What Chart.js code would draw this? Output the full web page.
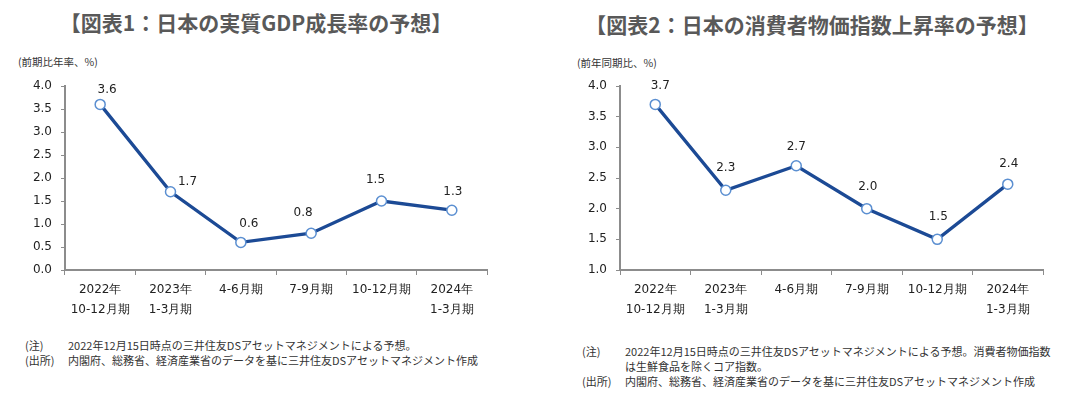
<!DOCTYPE html>
<html>
<head>
<meta charset="utf-8">
<script src="https://cdn.jsdelivr.net/npm/chart.js@4.4.0/dist/chart.umd.min.js"></script>
<style>
  body { margin: 0; background: #fff; width: 1087px; height: 397px; position: relative; overflow: hidden;
         font-family: "Noto Sans CJK JP", sans-serif; color: #333; }
  .title { position: absolute; top: 7px; font-size: 21px; font-weight: bold; color: #595959; white-space: nowrap;
           transform: translateX(-50%); }
  .unit { position: absolute; font-size: 10.5px; color: #333; white-space: nowrap; }
  .note { position: absolute; font-size: 11px; line-height: 15px; color: #333; white-space: nowrap; }
  .note span { display: inline-block; width: 43px; }
  canvas { position: absolute; top: 0; }
</style>
</head>
<body>
<div class="title" style="left:256px">【図表1：日本の実質GDP成長率の予想】</div>
<div class="title" style="left:812px;top:9px">【図表2：日本の消費者物価指数上昇率の予想】</div>
<div class="unit" style="left:18px;top:54px">(前期比年率、%)</div>
<div class="unit" style="left:577px;top:55px">(前年同期比、%)</div>

<div style="position:absolute;left:0;top:0;width:540px;height:330px"><canvas id="c1"></canvas></div>
<div style="position:absolute;left:545px;top:0;width:542px;height:330px"><canvas id="c2"></canvas></div>

<div class="note" style="left:25px;top:338px">
  <div><span>(注)</span>2022年12月15日時点の三井住友DSアセットマネジメントによる予想。</div>
  <div><span>(出所)</span>内閣府、総務省、経済産業省のデータを基に三井住友DSアセットマネジメント作成</div>
</div>
<div class="note" style="left:582px;top:344px">
  <div><span>(注)</span>2022年12月15日時点の三井住友DSアセットマネジメントによる予想。消費者物価指数</div>
  <div><span></span>は生鮮食品を除くコア指数。</div>
  <div><span>(出所)</span>内閣府、総務省、経済産業省のデータを基に三井住友DSアセットマネジメント作成</div>
</div>

<script>
// 期間ラベル
const quarters = [
  ["2022年", "10-12月期"],
  ["2023年", "1-3月期"],
  "4-6月期",
  "7-9月期",
  "10-12月期",
  ["2024年", "1-3月期"]
];
// 実質GDP成長率（前期比年率、%）
const gdpGrowth = [3.6, 1.7, 0.6, 0.8, 1.5, 1.3];
// コアCPI上昇率（前年同期比、%）
const cpiGrowth = [3.7, 2.3, 2.7, 2.0, 1.5, 2.4];
// 目盛り
const gdpTicks = { min: 0.0, max: 4.0, step: 0.5 };
const cpiTicks = { min: 1.0, max: 4.0, step: 0.5 };

const axisColor = "#8c8c8c";
const tickFont = { family: "DejaVu Sans", size: 12, lineHeight: "20px" };

// 値ラベルを点の上に描くプラグイン
const valueLabels = {
  id: "valueLabels",
  afterDatasetsDraw(chart, args, opts) {
    const ctx = chart.ctx;
    const meta = chart.getDatasetMeta(0);
    const values = chart.data.datasets[0].data;
    ctx.save();
    ctx.font = "12px 'DejaVu Sans'";
    ctx.fillStyle = "#222";
    ctx.textAlign = "center";
    ctx.textBaseline = "middle";
    meta.data.forEach((pt, i) => {
      const off = (opts.offsets && opts.offsets[i]) || [0, -20];
      ctx.fillText(values[i].toFixed(1), pt.x + off[0], pt.y + off[1]);
    });
    ctx.restore();
  }
};

function makeChart(id, values, yt, pad, offsets) {
  return new Chart(document.getElementById(id), {
    type: "line",
    data: {
      labels: quarters,
      datasets: [{
        data: values,
        borderColor: "#1c4a95",
        borderWidth: 3.3,
        pointRadius: 5,
        pointBorderWidth: 1.5,
        pointBorderColor: "#5b8fd1",
        pointBackgroundColor: "#fff",
        tension: 0
      }]
    },
    options: {
      responsive: true,
      maintainAspectRatio: false,
      animation: false,
      layout: { padding: pad },
      plugins: {
        legend: { display: false },
        tooltip: { enabled: false },
        valueLabels: { offsets: offsets }
      },
      scales: {
        x: {
          offset: true,
          grid: { offset: true, drawOnChartArea: false, drawTicks: true, tickLength: 5, color: axisColor },
          border: { display: true, color: axisColor, width: 2 },
          ticks: { font: tickFont, color: "#222", padding: 5, maxRotation: 0, autoSkip: false },
          afterFit: s => { s.height = 60; }
        },
        y: {
          min: yt.min,
          max: yt.max,
          grid: { drawOnChartArea: false, drawTicks: true, tickLength: 4, color: axisColor },
          border: { display: true, color: axisColor, width: 2 },
          ticks: { stepSize: yt.step, font: tickFont, color: "#222", padding: 9,
                   callback: v => v.toFixed(1) },
          afterFit: s => { s.width = 45; }
        }
      }
    },
    plugins: [valueLabels]
  });
}

makeChart("c1", gdpGrowth, gdpTicks, { left: 20, right: 53, top: 86, bottom: 0 },
  [[7, -15], [17, -10], [8, -19], [-8, -20], [-6, -21], [1, -18]]);
makeChart("c2", cpiGrowth, cpiTicks, { left: 30, right: 44, top: 86, bottom: 0 },
  [[5, -19], [0, -22], [0, -19], [1, -22], [1, -22], [1, -20]]);
</script>
</body>
</html>
